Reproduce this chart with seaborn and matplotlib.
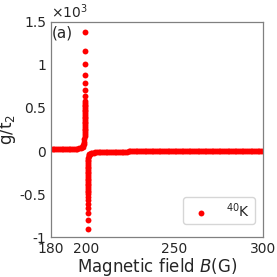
import matplotlib
matplotlib.use("Agg")
import matplotlib.pyplot as plt
import seaborn as sns
import pandas as pd

# --- DATA (g/t2 in plain units, axis shows x10^3) ---
# left branch: flat part, bend, then the column climbing to the top
B_left = [180, 181, 182, 183, 184, 185, 186, 187, 188, 189, 190, 191, 192, 193,
          194, 195, 196, 196.8, 197.4, 197.9, 198.3, 198.6, 198.8, 198.95,
          199.05, 199.1,
          199.12, 199.13, 199.14, 199.15, 199.16, 199.17, 199.18, 199.19, 199.2,
          199.21, 199.22, 199.23, 199.24, 199.25, 199.26, 199.27, 199.28,
          199.29, 199.3, 199.3, 199.3, 199.3, 199.3, 199.3, 199.3, 199.3]
g_left = [18, 18, 19, 19, 19, 20, 20, 20, 21, 21, 22, 22, 23, 24,
          25, 27, 30, 35, 42, 52, 65, 82, 105, 135,
          170, 200,
          220, 240, 260, 280, 300, 320, 340, 360, 380,
          400, 420, 440, 460, 480, 500, 520, 540,
          585, 640, 709, 791, 884, 1008, 1163, 1380, 560]

# right branch: column from the bottom, bend, then the long flat part
B_right = [201.0, 201.0, 201.0, 201.0, 201.0, 201.0, 201.0,
           201.0, 201.0, 201.0, 201.0, 201.0, 201.0, 201.0, 201.0, 201.0,
           201.0, 201.0, 201.0, 201.0, 201.0, 201.0, 201.0, 201.0, 201.0,
           201.0, 201.05, 201.1, 201.2, 201.35, 201.55, 201.8, 202.2, 202.7,
           203.4, 204.2, 205,
           206, 207, 208, 209, 210, 211, 212, 213, 214, 215, 216, 217, 218,
           219, 220, 221, 222, 223, 224, 225, 226, 227, 228, 229, 230, 231,
           232, 233, 234, 235, 236, 237, 238, 239, 240, 241, 242, 243, 244,
           245, 246, 247, 248, 249, 250, 251, 252, 253, 254, 255, 256, 257,
           258, 259, 260, 261, 262, 263, 264, 265, 266, 267, 268, 269, 270,
           271, 272, 273, 274, 275, 276, 277, 278, 279, 280, 281, 282, 283,
           284, 285, 286, 287, 288, 289, 290, 291, 292, 293, 294, 295, 296,
           297, 298, 299, 300]
g_right = [-907, -806, -720, -660, -610, -570, -529,
           -500, -480, -460, -440, -420, -400, -380, -360, -340,
           -320, -300, -280, -260, -240, -220, -200, -180, -160,
           -140, -120, -100, -80, -62, -48, -38, -30, -25,
           -21, -18, -16,
           -14, -13, -12, -11, -10, -10, -9, -9, -8, -8, -8, -7, -7,
           -7, -6, -6, -6, -6, -5, -5, -5, -5, -5, -5, -4, -4,
           -4, -4, -4, -4, -4, -4, -4, -3, -3, -3, -3, -3, -3,
           -3, -3, -3, -3, -3, -3, -3, -2, -2, -2, -2, -2, -2,
           -2, -2, -2, -2, -2, -2, -2, -2, -2, -2, -2, -2, -2,
           -2, -1, -1, -1, -1, -1, -1, -1, -1, -1, -1, -1, -1,
           -1, -1, -1, -1, -1, -1, -1, -1, -1, -1, -1, -1, -1,
           -1, -1, -1, -1]

x_ticks = [180, 200, 250, 300]
y_ticks = [-1000, -500, 0, 500, 1000, 1500]
y_tick_labels = ["-1", "-0.5", "0", "0.5", "1", "1.5"]

df = pd.DataFrame({"B": B_left + B_right, "g": g_left + g_right})

# --- PLOT ---
sns.set_style("white")
plt.rcParams["font.family"] = ["DejaVu Sans"]

fig = plt.figure(figsize=(2.77, 2.77), dpi=100)
ax = fig.add_axes([0.184, 0.144, 0.765, 0.777])

sns.scatterplot(data=df, x="B", y="g", color="red", s=18, linewidth=0,
                label="$^{40}$K", ax=ax)

ax.set_xlim(180, 300)
ax.set_ylim(-1000, 1500)
ax.set_xticks(x_ticks)
ax.set_xticklabels([str(t) for t in x_ticks])
ax.set_yticks(y_ticks)
ax.set_yticklabels(y_tick_labels)
ax.tick_params(labelsize=10, length=2, color="gray", pad=1.5)

for sp in ax.spines.values():
    sp.set_color("gray")
    sp.set_linewidth(0.9)

ax.set_xlabel("Magnetic field $B$(G)", fontsize=12, labelpad=0)
ax.set_ylabel("g/t$_2$", fontsize=12, labelpad=1)

ax.text(0.0, 1.005, r"$\times10^3$", transform=ax.transAxes, fontsize=10,
        ha="left", va="bottom")
ax.text(0.005, 0.985, "(a)", transform=ax.transAxes, fontsize=11,
        ha="left", va="top")

ax.legend(loc="lower right", fontsize=10, frameon=True, borderpad=0.3,
          bbox_to_anchor=(0.995, 0.03))

fig.savefig("out.png", dpi=100)
